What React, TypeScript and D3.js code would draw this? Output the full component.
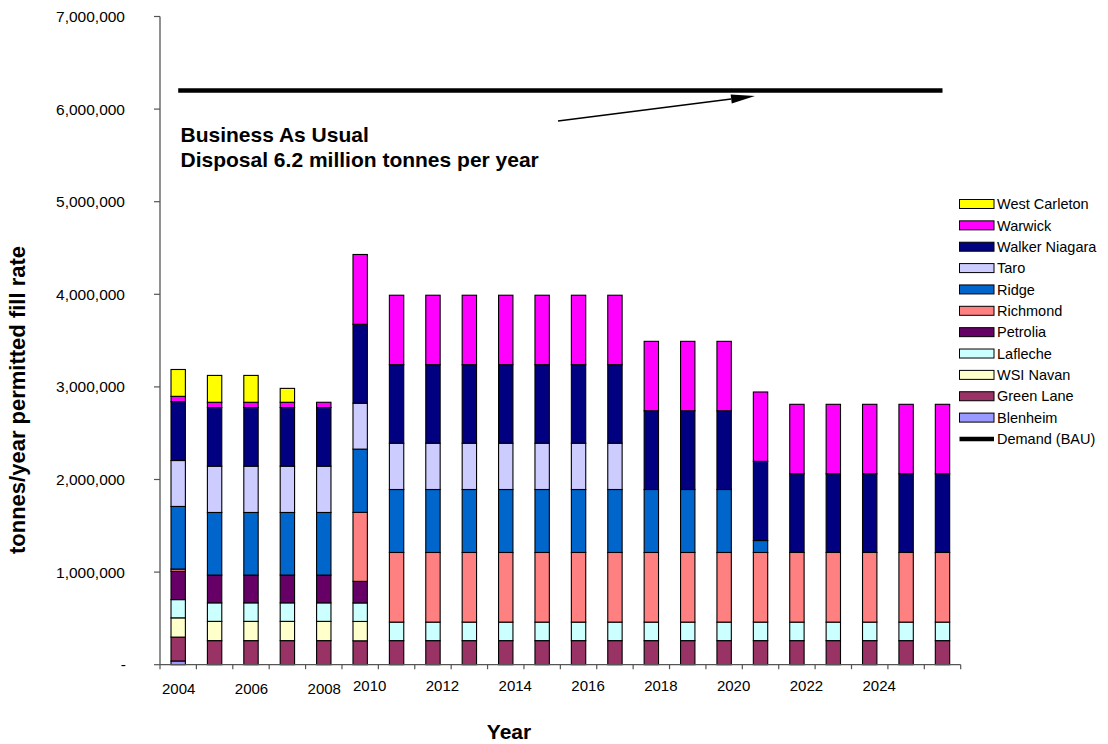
import React from "react";
import * as d3 from "d3";

const years = [2004, 2005, 2006, 2007, 2008, 2010, 2011, 2012, 2013, 2014, 2015, 2016, 2017, 2018, 2019, 2020, 2021, 2022, 2023, 2024, 2025, 2026];
const tickLabels = ["2004", "2006", "2008", "2010", "2012", "2014", "2016", "2018", "2020", "2022", "2024"];
const yTicks = [0, 1000000, 2000000, 3000000, 4000000, 5000000, 6000000, 7000000];

const blenheim = [40000, 0, 0, 0, 0, 0, 0, 0, 0, 0, 0, 0, 0, 0, 0, 0, 0, 0, 0, 0, 0, 0];
const greenLane = [258000, 260000, 260000, 260000, 260000, 258000, 260000, 260000, 260000, 260000, 260000, 260000, 260000, 260000, 260000, 260000, 260000, 260000, 260000, 260000, 260000, 260000];
const wsiNavan = [208000, 208000, 208000, 208000, 208000, 209000, 0, 0, 0, 0, 0, 0, 0, 0, 0, 0, 0, 0, 0, 0, 0, 0];
const lafleche = [197000, 200000, 200000, 200000, 200000, 200000, 200000, 200000, 200000, 200000, 200000, 200000, 200000, 200000, 200000, 200000, 200000, 200000, 200000, 200000, 200000, 200000];
const petrolia = [305000, 300000, 300000, 300000, 300000, 233000, 0, 0, 0, 0, 0, 0, 0, 0, 0, 0, 0, 0, 0, 0, 0, 0];
const richmond = [25000, 0, 0, 0, 0, 745000, 752000, 752000, 752000, 752000, 752000, 752000, 752000, 752000, 752000, 752000, 752000, 752000, 752000, 752000, 752000, 752000];
const ridge = [676000, 676000, 676000, 676000, 676000, 683000, 680000, 680000, 680000, 680000, 680000, 680000, 680000, 680000, 680000, 680000, 129000, 0, 0, 0, 0, 0];
const taro = [496000, 500000, 500000, 500000, 500000, 496000, 500000, 500000, 500000, 500000, 500000, 500000, 500000, 0, 0, 0, 0, 0, 0, 0, 0, 0];
const walkerNiagara = [636000, 633000, 633000, 633000, 633000, 852000, 848000, 848000, 848000, 848000, 848000, 848000, 848000, 850000, 850000, 850000, 855000, 850000, 850000, 850000, 850000, 850000];
const warwick = [57000, 57000, 57000, 57000, 57000, 754000, 750000, 750000, 750000, 750000, 750000, 750000, 750000, 750000, 750000, 750000, 749000, 750000, 750000, 750000, 750000, 750000];
const westCarleton = [290000, 290000, 290000, 150000, 0, 0, 0, 0, 0, 0, 0, 0, 0, 0, 0, 0, 0, 0, 0, 0, 0, 0];
const demand = [6200000, 6200000, 6200000, 6200000, 6200000, 6200000, 6200000, 6200000, 6200000, 6200000, 6200000, 6200000, 6200000, 6200000, 6200000, 6200000, 6200000, 6200000, 6200000, 6200000, 6200000, 6200000];

const seriesNames = ["Blenheim", "Green Lane", "WSI Navan", "Lafleche", "Petrolia", "Richmond", "Ridge", "Taro", "Walker Niagara", "Warwick", "West Carleton"];
const seriesValues = [blenheim, greenLane, wsiNavan, lafleche, petrolia, richmond, ridge, taro, walkerNiagara, warwick, westCarleton];
const seriesColors = ["#9999FF", "#993366", "#FFFFCC", "#CCFFFF", "#660066", "#FF8080", "#0066CC", "#CCCCFF", "#000080", "#FF00FF", "#FFFF00"];

const FONT = "'Liberation Sans', Arial, Helvetica, sans-serif";

export default function App() {
  const W = 1108, H = 744;
  const left = 160, right = 960.7, top = 16.5, bottom = 664.7;

  const x = d3.scaleBand<number>().domain(years).range([left, right]).padding(0);
  const y = d3.scaleLinear().domain([0, 7000000]).range([bottom, top]);
  const barW = x.bandwidth() * 0.395;

  const rows = years.map((yr, i) => {
    const r: any = { year: yr };
    seriesNames.forEach((n, k) => (r[n] = seriesValues[k][i]));
    return r;
  });
  const stack = d3.stack<any>().keys(seriesNames)(rows);

  const cx = (yr: number) => (x(yr) as number) + x.bandwidth() / 2;

  const demandLine = d3.line<number>()
    .x((_, i) => cx(years[i]))
    .y((d) => y(d))(demand) as string;

  const fmt = d3.format(",");

  // annotation arrow
  const ax1 = 558, ay1 = 121, ax2 = 755, ay2 = 96;
  const ang = Math.atan2(ay2 - ay1, ax2 - ax1);
  const hl = 24, hw = 4.5;
  const bx = ax2 - hl * Math.cos(ang), by = ay2 - hl * Math.sin(ang);
  const head = [
    [ax2, ay2],
    [bx + hw * Math.sin(ang), by - hw * Math.cos(ang)],
    [bx - hw * Math.sin(ang), by + hw * Math.cos(ang)],
  ].map((p) => p.join(",")).join(" ");

  const legendItems = [...seriesNames].reverse().map((n) => ({ name: n, color: seriesColors[seriesNames.indexOf(n)], line: false }));
  legendItems.push({ name: "Demand (BAU)", color: "#000", line: true });

  return (
    <svg width={W} height={H} style={{ position: "absolute", left: 0, top: 0, background: "#fff" }} fontFamily={FONT}>
      <rect width={W} height={H} fill="#fff" />
      {/* bars */}
      {stack.map((layer, k) => (
        <g key={seriesNames[k]}>
          {layer.map((d, i) => {
            if (d[1] - d[0] <= 0) return null;
            return (
              <rect
                key={i}
                x={cx(years[i]) - barW / 2}
                y={y(d[1])}
                width={barW}
                height={y(d[0]) - y(d[1])}
                fill={seriesColors[k]}
                stroke="#000"
                strokeWidth={1.1}
              />
            );
          })}
        </g>
      ))}
      {/* axes */}
      <line x1={left} x2={left} y1={top} y2={bottom} stroke="#555" strokeWidth={1.3} />
      <line x1={left} x2={right} y1={bottom} y2={bottom} stroke="#555" strokeWidth={1.3} />
      {yTicks.map((t) => (
        <g key={t}>
          <line x1={left - 6} x2={left} y1={y(t)} y2={y(t)} stroke="#555" strokeWidth={1.2} />
          <text x={t === 0 ? 126 : 125} y={y(t)} dy="0.36em" textAnchor="end" fontSize={15.5} fill="#000">
            {t === 0 ? "-" : fmt(t)}
          </text>
        </g>
      ))}
      {years.map((yr) => (
        <line key={yr} x1={x(yr)} x2={x(yr)} y1={bottom} y2={bottom + 4.5} stroke="#555" strokeWidth={1.2} />
      ))}
      <line x1={right} x2={right} y1={bottom} y2={bottom + 4.5} stroke="#555" strokeWidth={1.2} />
      {tickLabels.map((s) => {
        const yr = +s;
        const early = yr < 2010;
        return (
          <text key={s} x={cx(yr) + (early ? 0.5 : 9.5)} y={early ? 694 : 690.7} textAnchor="middle" fontSize={15} fill="#000">
            {s}
          </text>
        );
      })}
      {/* demand */}
      <path d={demandLine} fill="none" stroke="#000" strokeWidth={4.5} />
      {/* annotation */}
      <line x1={ax1} y1={ay1} x2={bx} y2={by} stroke="#000" strokeWidth={1.6} />
      <polygon points={head} fill="#000" />
      <text x={180.5} y={141.7} fontSize={21} fontWeight="bold" fill="#000">Business As Usual</text>
      <text x={180.5} y={166.7} fontSize={21} fontWeight="bold" fill="#000">Disposal 6.2 million tonnes per year</text>
      {/* axis titles */}
      <text x={509} y={739} textAnchor="middle" fontSize={21} fontWeight="bold">Year</text>
      <text transform="translate(25,400) rotate(-90)" textAnchor="middle" fontSize={22} fontWeight="bold">tonnes/year permitted fill rate</text>
      {/* legend */}
      {legendItems.map((it, i) => {
        const ly = 204 + i * 21.36;
        return (
          <g key={it.name}>
            {it.line ? (
              <line x1={959.5} x2={994} y1={ly} y2={ly} stroke="#000" strokeWidth={4.5} />
            ) : (
              <rect x={959.5} y={ly - 4.5} width={34.5} height={9} fill={it.color} stroke="#000" strokeWidth={1} />
            )}
            <text x={997} y={ly} dy="0.36em" fontSize={14.5} fill="#000">{it.name}</text>
          </g>
        );
      })}
    </svg>
  );
}
